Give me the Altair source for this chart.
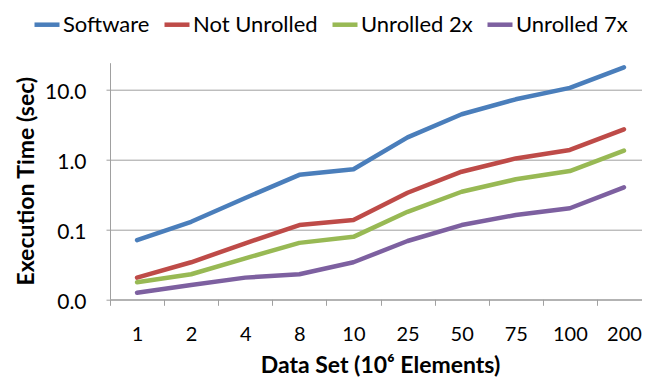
import altair as alt
import pandas as pd

datasets = ["1", "2", "4", "8", "10", "25", "50", "75", "100", "200"]
series_names = ["Software", "Not Unrolled", "Unrolled 2x", "Unrolled 7x"]
software = [0.070, 0.128, 0.28, 0.60, 0.72, 2.06, 4.4, 7.2, 10.5, 20.6]
not_unrolled = [0.0204, 0.0338, 0.063, 0.115, 0.136, 0.333, 0.665, 1.03, 1.36, 2.68]
unrolled_2x = [0.0175, 0.0228, 0.0385, 0.064, 0.078, 0.178, 0.344, 0.518, 0.68, 1.33]
unrolled_7x = [0.0124, 0.016, 0.0204, 0.0228, 0.0338, 0.068, 0.115, 0.16, 0.20, 0.398]
colors = ["#4A7EBB", "#BE4B48", "#98B954", "#7D60A0"]
y_ticks = [0.01, 0.1, 1, 10]

rows = []
for name, vals in zip(series_names, [software, not_unrolled, unrolled_2x, unrolled_7x]):
    for d, v in zip(datasets, vals):
        rows.append({"Data Set": d, "Series": name, "Time": v})
df = pd.DataFrame(rows)

FONT = "Lato"

chart = alt.Chart(df).mark_line(strokeWidth=4.5, strokeCap="round", strokeJoin="round").encode(
    x=alt.X("Data Set:N", sort=datasets,
            scale=alt.Scale(type="band", paddingInner=0, paddingOuter=0, range=[0, 541]),
            axis=alt.Axis(title="Data Set (10⁶ Elements)", labelAngle=0, grid=False,
                          tickBand="extent", tickSize=6, tickColor="#A0A0A0",
                          domainColor="#A0A0A0", labelFontSize=20, labelFont=FONT,
                          labelColor="#000000", labelBaseline="alphabetic", labelPadding=35.5,
                          titleFont=FONT, titleFontSize=23, titleFontWeight="bold",
                          titleColor="#000000", titleBaseline="alphabetic", titleY=73,
                          titleX=270)),
    y=alt.Y("Time:Q",
            scale=alt.Scale(type="log", domain=[0.01, 24], nice=False),
            axis=alt.Axis(title="Execution Time (sec)", values=y_ticks, format=".1f",
                          grid=True, gridColor="#A0A0A0", domainColor="#A0A0A0",
                          tickColor="#A0A0A0", tickSize=4, labelPadding=20, labelOffset=3,
                          labelFontSize=21, labelFont=FONT, labelColor="#000000",
                          titleFont=FONT, titleFontSize=23, titleFontWeight="bold",
                          titleColor="#000000", titleAngle=-90, titleX=-84, titleY=118,
                          titleAlign="center", titleBaseline="middle")),
    color=alt.Color("Series:N", sort=series_names,
                    scale=alt.Scale(domain=series_names, range=colors),
                    legend=alt.Legend(title=None, orient="none", direction="horizontal",
                                      legendX=-78, legendY=-53, symbolType="stroke",
                                      symbolSize=625, symbolStrokeWidth=4.5,
                                      labelFont=FONT, labelFontSize=22, labelColor="#000000",
                                      labelOffset=1, columnPadding=5, padding=0)),
).properties(
    width=532, height=236.6,
    autosize=alt.AutoSizeParams(type="none"),
    padding={"left": 102, "top": 54.7, "right": 0, "bottom": 78},
).configure_view(stroke=None)

chart.save("out.html", embed_options={"renderer": "svg", "actions": False})
